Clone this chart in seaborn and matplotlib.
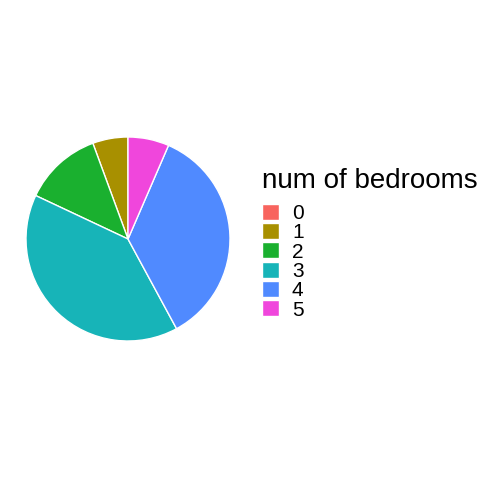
import matplotlib
matplotlib.use("Agg")
import matplotlib.pyplot as plt
import seaborn as sns
from matplotlib.patches import Rectangle

sns.set_theme(style="white")
plt.rcParams['font.family'] = ['Liberation Sans', 'DejaVu Sans']
plt.rcParams['text.color'] = 'black'
plt.rcParams['legend.labelcolor'] = 'black'

categories = ["0", "1", "2", "3", "4", "5"]
shares = [0.0, 5.6, 12.4, 39.9, 35.6, 6.5]
colors = ['#F8645E', '#A89000', '#1AB02F', '#17B4B8', '#508AFF', '#F046DC']

fig = plt.figure(figsize=(4.8, 4.8), dpi=100)
cx, cy, r = 128, 239, 102
ax = fig.add_axes([(cx - r) / 480, (480 - cy - r) / 480, 2 * r / 480, 2 * r / 480])
ax.pie(shares, colors=colors, startangle=90, counterclock=True, radius=1,
       wedgeprops=dict(edgecolor='white', linewidth=1.0))
ax.set_xlim(-1.0, 1.0)
ax.set_ylim(-1.0, 1.0)
ax.set_aspect('equal')
ax.axis('off')

handles = [Rectangle((0, 0), 1, 1, facecolor=c, edgecolor='white', linewidth=1) for c in colors]
fs = 15
fpx = fs * 100 / 72
leg = fig.legend(handles, categories, title='num of bedrooms', loc='upper left',
                 bbox_to_anchor=(262 / 480, 1 - 168 / 480), frameon=False,
                 fontsize=fs, title_fontsize=20, alignment='left',
                 handlelength=17 / fpx, handleheight=17 / fpx,
                 handletextpad=13 / fpx, labelspacing=0.0, borderpad=0,
                 borderaxespad=0)
leg._legend_box.sep = 7
leg.get_title().set_color('black')

fig.savefig("out.png", dpi=100)
